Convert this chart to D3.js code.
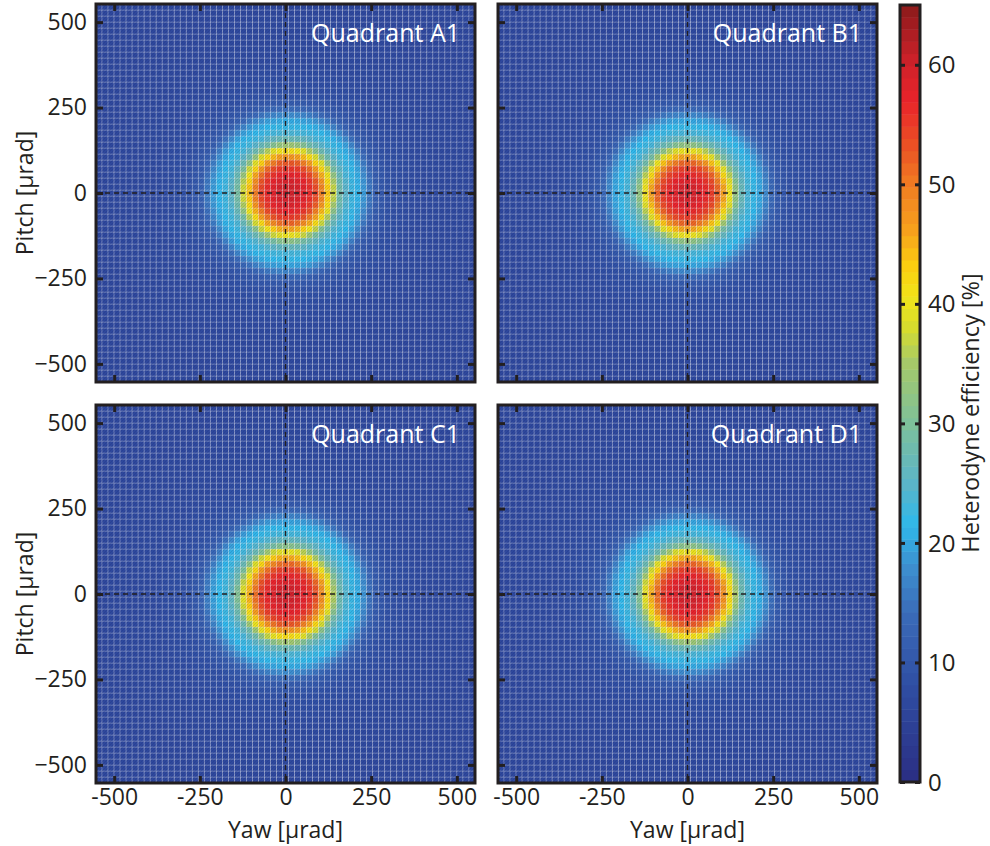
<!DOCTYPE html>
<html>
<head>
<meta charset="utf-8">
<script src="https://cdn.jsdelivr.net/npm/d3@7"></script>
<style>
  body { margin: 0; background: #fff; }
  text { font-family: "Open Sans", "Noto Sans", sans-serif; fill: #231f20; }
</style>
</head>
<body>
<div id="chart"></div>
<script>
// tick values and panel names
const yawTicks = [-500, -250, 0, 250, 500];
const pitchTicks = [-500, -250, 0, 250, 500];
const barTicks = [0, 10, 20, 30, 40, 50, 60];
const quadrants = ["Quadrant A1", "Quadrant B1", "Quadrant C1", "Quadrant D1"];

// beam centre of every quadrant [µrad]
const centerYaw = [8, 0, 5, 4];
const centerPitch = [2, 0, -3, -2];

// radial profile of the heterodyne efficiency [%]
const profileRadius = [0, 25, 50, 75, 90, 100, 115, 130, 140, 150, 175, 200, 220, 240, 260, 300, 400, 560, 800];
const profileA = [60, 59.5, 57.5, 55, 52, 48.5, 43.5, 38.5, 33.5, 28.5, 23.5, 21.5, 19, 15, 11, 8.5, 7, 6.5, 6.5];
const profileB = [60, 59, 57, 54.5, 51.5, 48, 43, 38, 33, 28.5, 23.5, 21.5, 19, 15, 11, 8.5, 7, 6.5, 6.5];
const profileC = [60, 59.5, 57.5, 55, 52, 48.5, 43.5, 38.5, 33.5, 28.5, 23.5, 21.5, 19, 15, 11, 8.5, 7, 6.5, 6.5];
const profileD = [60, 59.5, 57.5, 55, 52, 48.5, 43.5, 38.5, 33.5, 28.5, 23.5, 21.5, 19, 15, 11, 8.5, 7, 6.5, 6.5];
const profiles = [profileA, profileB, profileC, profileD];

// colour map (muted jet as printed)
const cmapValues = [0, 8, 14, 18, 21.5, 25, 30, 35, 38, 40.5, 43, 46, 50, 53, 57, 60, 63, 65];
const cmapColors = ["#2b2e83", "#2f4ea3", "#3a6ab8", "#3d8fcf", "#2fb8ea", "#5bb5c8", "#7dc09a", "#a5c96a",
  "#d6dc2e", "#f1e41a", "#fbd10f", "#f6a21c", "#f07c22", "#eb5424", "#e9232a", "#d0222a", "#a71d22", "#8b1a1a"];

const W = 990, H = 846;
const svg = d3.select("#chart").append("svg")
  .attr("width", W).attr("height", H);

// hatch texture of the printed surface
const defs = svg.append("defs");
defs.append("pattern")
  .attr("id", "hatch")
  .attr("width", 3).attr("height", 3)
  .attr("patternUnits", "userSpaceOnUse")
  .append("path")
    .attr("d", "M0,3 L3,0")
    .attr("stroke", "rgba(20,20,80,0.18)")
    .attr("stroke-width", 0.8);

const color = d3.scaleLinear().domain(cmapValues).range(cmapColors).clamp(true);

// panel boxes
const panels = [
  { x0: 96, x1: 475, y0: 4, y1: 382, left: true, bottom: false },
  { x0: 498, x1: 877, y0: 4, y1: 382, left: false, bottom: false },
  { x0: 96, x1: 475, y0: 405, y1: 783, left: true, bottom: true },
  { x0: 498, x1: 877, y0: 405, y1: 783, left: false, bottom: true }
];
const lim = 553;
const nCells = 63;
const step = 2 * lim / nCells;
const gridPos = d3.range(nCells).map(i => -lim + step * (i + 0.5));
const fs = 23;

panels.forEach((p, k) => {
  const x = d3.scaleLinear().domain([-lim, lim]).range([p.x0, p.x1]);
  const y = d3.scaleLinear().domain([-lim, lim]).range([p.y1, p.y0]);
  const prof = d3.scaleLinear().domain(profileRadius).range(profiles[k]).clamp(true);

  const cells = [];
  gridPos.forEach(gx => gridPos.forEach(gy => {
    const r = Math.hypot(gx - centerYaw[k], gy - centerPitch[k]);
    cells.push({ gx, gy, v: prof(r) });
  }));

  const g = svg.append("g");
  const cw = x(step) - x(0), ch = y(0) - y(step);
  g.selectAll("rect.cell")
    .data(cells)
    .join("rect")
      .attr("class", "cell")
      .attr("x", d => x(d.gx) - cw / 2)
      .attr("y", d => y(d.gy) - ch / 2)
      .attr("width", cw)
      .attr("height", ch)
      .attr("fill", d => color(d.v))
      .attr("stroke", "rgba(255,255,255,0.3)")
      .attr("stroke-width", 0.7);
  g.append("rect")
    .attr("x", p.x0).attr("y", p.y0)
    .attr("width", p.x1 - p.x0).attr("height", p.y1 - p.y0)
    .attr("fill", "url(#hatch)");

  // dashed cross at zero
  g.append("line")
    .attr("x1", x(0)).attr("x2", x(0)).attr("y1", p.y0).attr("y2", p.y1)
    .attr("stroke", "#231f20").attr("stroke-width", 1.3).attr("stroke-dasharray", "5,4");
  g.append("line")
    .attr("y1", y(0)).attr("y2", y(0)).attr("x1", p.x0).attr("x2", p.x1)
    .attr("stroke", "#231f20").attr("stroke-width", 1.3).attr("stroke-dasharray", "5,4");

  // axes, ticks pointing inwards
  const ax = [
    [d3.axisLeft(y).tickValues(pitchTicks), p.x0, 0, p.left ? (d => d < 0 ? "\u2212" + Math.abs(d) : d) : "", 9],
    [d3.axisRight(y).tickValues(pitchTicks), p.x1, 0, "", 9],
    [d3.axisTop(x).tickValues(yawTicks), 0, p.y0, "", 9],
    [d3.axisBottom(x).tickValues(yawTicks), 0, p.y1, p.bottom ? (d => d) : "", 6]
  ];
  ax.forEach(([a, tx, ty, fmt, pad]) => {
    const ag = g.append("g")
      .attr("transform", `translate(${tx},${ty})`)
      .call(a.tickSize(-7).tickPadding(pad).tickFormat(fmt === "" ? () => "" : fmt));
    ag.select(".domain").remove();
    ag.selectAll("line").attr("stroke", "#231f20").attr("stroke-width", 3);
    ag.selectAll("text").attr("font-size", fs).attr("font-family", "Open Sans").attr("fill", "#231f20");
  });

  // frame
  g.append("rect")
    .attr("x", p.x0).attr("y", p.y0)
    .attr("width", p.x1 - p.x0).attr("height", p.y1 - p.y0)
    .attr("fill", "none").attr("stroke", "#231f20").attr("stroke-width", 3);

  // title
  g.append("text")
    .attr("x", p.x1 - 15).attr("y", p.y0 + 38)
    .attr("text-anchor", "end")
    .attr("font-size", 25)
    .style("fill", "#fff")
    .text(quadrants[k]);

  if (p.left) {
    g.append("text")
      .attr("transform", `translate(33,${(p.y0 + p.y1) / 2}) rotate(-90)`)
      .attr("text-anchor", "middle")
      .attr("font-size", fs)
      .text("Pitch [\u00b5rad]");
  }
  if (p.bottom) {
    g.append("text")
      .attr("x", (p.x0 + p.x1) / 2).attr("y", 838)
      .attr("text-anchor", "middle")
      .attr("font-size", fs)
      .text("Yaw [\u00b5rad]");
  }
});

// colour bar
const cb = { x0: 900, x1: 920, y0: 5, y1: 782 };
const cy = d3.scaleLinear().domain([0, 65]).range([cb.y1, cb.y0]);
const nLevels = 64;
const levels = d3.range(nLevels).map(i => i * 65 / nLevels);
const cbg = svg.append("g");
cbg.selectAll("rect.lvl")
  .data(levels)
  .join("rect")
    .attr("class", "lvl")
    .attr("x", cb.x0).attr("width", cb.x1 - cb.x0)
    .attr("y", d => cy(d + 65 / nLevels))
    .attr("height", cy(0) - cy(65 / nLevels) + 0.5)
    .attr("fill", d => color(d + 65 / nLevels / 2));
const cbL = cbg.append("g").attr("transform", `translate(${cb.x0},0)`)
  .call(d3.axisRight(cy).tickValues(barTicks).tickSize(5).tickFormat(""));
const cbR = cbg.append("g").attr("transform", `translate(${cb.x1},0)`)
  .call(d3.axisLeft(cy).tickValues(barTicks).tickSize(5).tickFormat(""));
[cbL, cbR].forEach(a => {
  a.select(".domain").remove();
  a.selectAll("line").attr("stroke", "#231f20").attr("stroke-width", 3);
});
cbg.selectAll("text.cbl")
  .data(barTicks)
  .join("text")
    .attr("class", "cbl")
    .attr("x", cb.x1 + 8)
    .attr("y", d => cy(d))
    .attr("dy", "0.36em")
    .attr("font-size", 24)
    .text(d => d);
cbg.append("rect")
  .attr("x", cb.x0).attr("y", cb.y0)
  .attr("width", cb.x1 - cb.x0).attr("height", cb.y1 - cb.y0)
  .attr("fill", "none").attr("stroke", "#231f20").attr("stroke-width", 3);
cbg.append("text")
  .attr("transform", `translate(979,413) rotate(-90)`)
  .attr("text-anchor", "middle")
  .attr("font-size", 23.5)
  .text("Heterodyne efficiency [%]");
</script>
</body>
</html>
